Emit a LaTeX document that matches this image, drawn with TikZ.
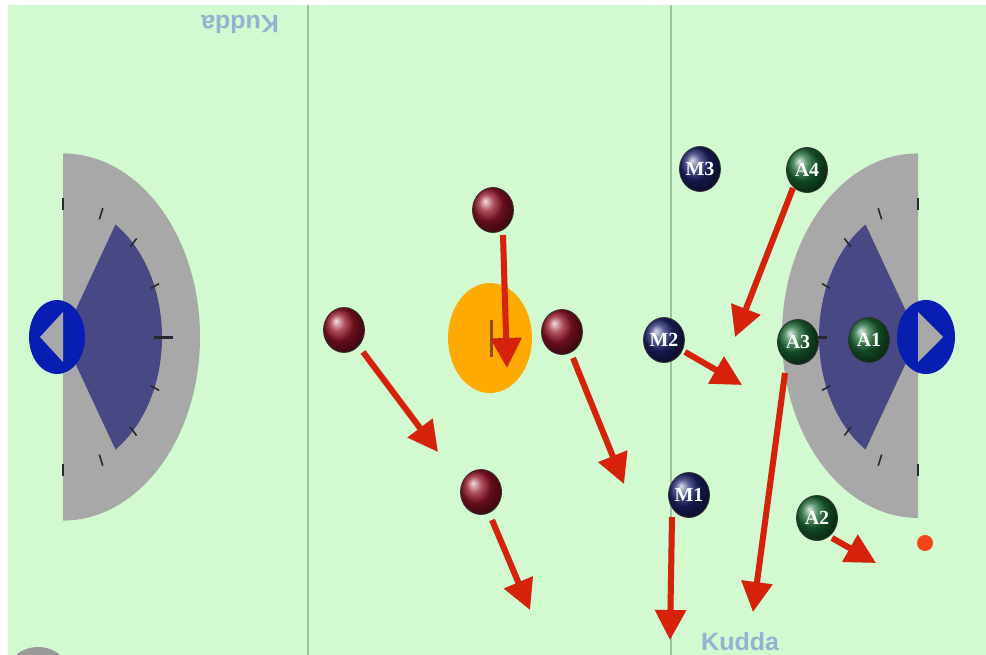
\documentclass[tikz,border=0pt]{standalone}
\usepackage{fontspec}
\setmainfont{Liberation Serif}
\newfontfamily\kuddafont{Liberation Sans}
\usetikzlibrary{arrows.meta,shapes.geometric}
\definecolor{fieldgreen}{RGB}{210,249,208}
\definecolor{linegreen}{RGB}{160,192,165}
\definecolor{creasegrey}{RGB}{168,168,168}
\definecolor{wedgeblue}{RGB}{72,72,132}
\definecolor{goalblue}{RGB}{8,30,178}
\definecolor{faceoff}{RGB}{255,170,0}
\definecolor{arrowred}{RGB}{214,34,10}
\definecolor{kuddablue}{RGB}{150,178,210}
\definecolor{balldot}{RGB}{240,70,20}
\definecolor{shadowgreen}{RGB}{90,130,95}
\definecolor{tickdark}{RGB}{40,40,50}
\tikzset{
  player/.style={ellipse, minimum width=41pt, minimum height=45pt, inner sep=0pt,
    draw=black!80, line width=0.8pt, shading=ball,
    font=\fontsize{20}{20}\selectfont\bfseries, text=white},
  redball/.style={player, ball color={rgb,255:red,150;green,20;blue,40}},
  mball/.style={player, ball color={rgb,255:red,30;green,36;blue,110}},
  aball/.style={player, ball color={rgb,255:red,25;green,105;blue,50}},
  run/.style={arrowred, line width=6pt, -{Triangle[length=30pt,width=30pt]}},
  runshadow/.style={shadowgreen, opacity=0.3, line width=6pt, -{Triangle[length=30pt,width=30pt]}, shift={(4,6)}},
  creasetick/.style={tickdark, line width=1.6pt},
  kudda/.style={kuddablue, font=\kuddafont\fontsize{25}{25}\selectfont\bfseries, inner sep=0pt},
}
\begin{document}
\begin{tikzpicture}[x=1pt,y=-1pt]
\useasboundingbox (0,0) rectangle (986,655);
\fill[white] (0,0) rectangle (986,655);
\begin{scope}
\clip (0,0) rectangle (986,655);
\fill[fieldgreen] (8,5) rectangle (986,660);
% field lines
\draw[linegreen, line width=2pt] (308,5) -- (308,655);
\draw[linegreen, line width=2pt] (671,5) -- (671,655);
% left crease
\begin{scope}[shift={(63,337)}, yscale=1.34]
  \fill[creasegrey] (0,-137) arc[start angle=-90, end angle=90, radius=137] -- cycle;
  \fill[wedgeblue] (0,0) -- (-58:99) arc[start angle=-58, end angle=58, radius=99] -- cycle;
  \foreach \a in {-90,-67.5,-45,-22.5,22.5,45,67.5,90}
    \draw[creasetick] (\a:95) -- (\a:104);
  \draw[creasetick, line width=3pt] (0:91) -- (0:110);
\end{scope}
% right crease
\begin{scope}[shift={(918,337)}, xscale=-1, yscale=1.34]
  \fill[creasegrey] (0,-137) arc[start angle=-90, end angle=90, radius=136] -- cycle;
  \fill[wedgeblue] (0,0) -- (-58:99) arc[start angle=-58, end angle=58, radius=99] -- cycle;
  \foreach \a in {-90,-67.5,-45,-22.5,22.5,45,67.5,90}
    \draw[creasetick] (\a:95) -- (\a:104);
  \draw[creasetick, line width=3pt] (0:91) -- (0:110);
\end{scope}
% goals
\fill[goalblue] (57,337) ellipse [x radius=28, y radius=37];
\fill[creasegrey] (40,337) -- (63,312) -- (63,362) -- cycle;
\fill[goalblue] (926,337) ellipse [x radius=29, y radius=37];
\fill[creasegrey] (943,337) -- (918,312) -- (918,362) -- cycle;
% faceoff
\fill[faceoff] (490,338) ellipse [x radius=42, y radius=55];
\draw[black!70!red!40!brown, line width=3pt] (491,320) -- (491,357);
% bottom-left grey blob
\fill[black!40] (38,676) ellipse [x radius=32, y radius=29];
% Kudda marks
\node[kudda, rotate=180] (ktop) at (240,24) {Kudda};
\node[kudda, anchor=base west] (kbot) at (701,650) {Kudda};
% ball
\fill[balldot] (925,543) circle [radius=8];
% arrow coordinates
\coordinate (s1) at (503,235); \coordinate (t1) at (507,368);
\coordinate (s2) at (363,352); \coordinate (t2) at (438,452);
\coordinate (s3) at (573,358); \coordinate (t3) at (624,484);
\coordinate (s4) at (492,520); \coordinate (t4) at (530,610);
\coordinate (s5) at (685,352); \coordinate (t5) at (742,385);
\coordinate (s6) at (793,188); \coordinate (t6) at (735,337);
\coordinate (s7) at (785,373); \coordinate (t7) at (753,612);
\coordinate (s8) at (672,517); \coordinate (t8) at (670,640);
\coordinate (s9) at (832,538); \coordinate (t9) at (876,563);
% shadows
\foreach \i in {1,...,9}
  \draw[runshadow] (s\i) -- (t\i);
% players
\node[redball] (r1) at (493,210) {};
\node[redball] (r2) at (344,330) {};
\node[redball] (r3) at (562,332) {};
\node[redball] (r4) at (481,492) {};
\node[mball] (m3) at (700,169) {M3};
\node[mball] (m2) at (664,340) {M2};
\node[mball] (m1) at (689,495) {M1};
\node[aball] (a4) at (807,170) {A4};
\node[aball] (a3) at (798,342) {A3};
\node[aball] (a1) at (869,340) {A1};
\node[aball] (a2) at (817,518) {A2};
% arrows
\foreach \i in {1,...,9}
  \draw[run] (s\i) -- (t\i);
\end{scope}
\end{tikzpicture}
\end{document}
